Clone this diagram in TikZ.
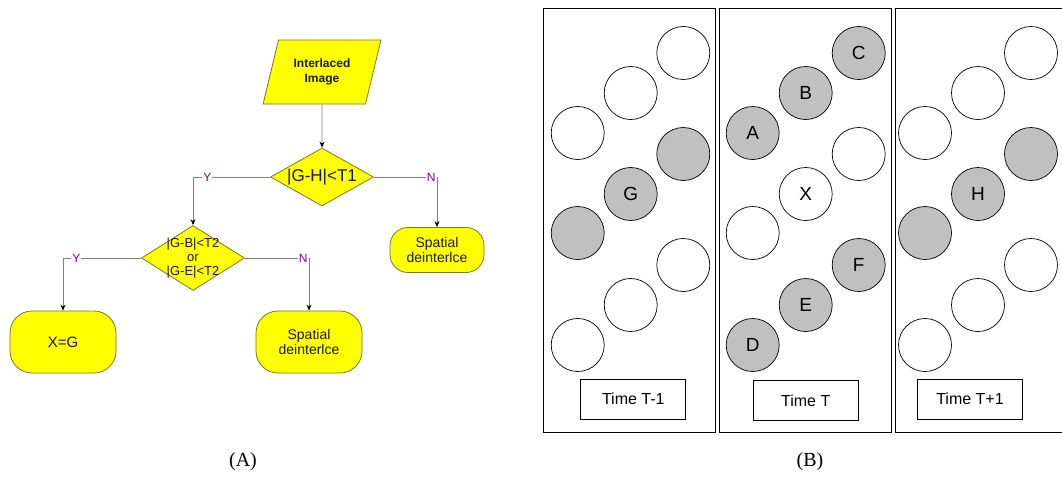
\documentclass[tikz,border=0pt]{standalone}
\usepackage{fontspec}
\setmainfont{Liberation Sans}
\newfontfamily\capfont{Liberation Serif}
\usetikzlibrary{shapes.geometric,arrows.meta}

\definecolor{flowfill}{RGB}{255,255,0}
\definecolor{flowedge}{RGB}{120,120,40}
\definecolor{wiregray}{RGB}{128,128,128}
\definecolor{ynpurple}{RGB}{128,0,128}
\definecolor{pixgray}{RGB}{192,192,192}

\tikzset{
  flow/.style={draw=flowedge, fill=flowfill, line width=0.8pt, inner sep=0pt, align=center, text=black!90},
  iobox/.style={flow, trapezium, trapezium left angle=69, trapezium right angle=111,
    trapezium stretches=true, minimum width=118pt, minimum height=64pt,
    font=\fontsize{12}{15}\selectfont\bfseries},
  decision/.style={flow, diamond, minimum width=103pt},
  dtext/.style={inner sep=0pt, align=center, text=black!90},
  terminal/.style={flow, rectangle, rounded corners=22pt, minimum width=106pt, minimum height=62pt,
    font=\fontsize{14}{15.5}\selectfont},
  wire/.style={draw=wiregray, line width=0.8pt},
  flowarrow/.style={wire, -{Stealth[length=6pt,width=5pt,black]}},
  yn/.style={text=ynpurple, fill=white, inner sep=1pt, font=\fontsize{12}{12}\selectfont},
  pix/.style={circle, draw=black, line width=0.7pt, minimum size=53pt, inner sep=0pt,
    fill=white, font=\fontsize{19}{19}\selectfont},
  shaded/.style={pix, fill=pixgray},
  timebox/.style={rectangle, draw=black, line width=0.7pt, minimum width=105pt, minimum height=40pt,
    inner sep=0pt, font=\fontsize{16}{16}\selectfont},
  panel/.style={draw=black, line width=0.8pt},
  caption/.style={font=\capfont\fontsize{20}{20}\selectfont, inner sep=0pt}
}

\begin{document}
\begin{tikzpicture}[x=1pt, y=-1pt]
\useasboundingbox (0,0) rectangle (1062,499);

% ---------- flowchart ----------
\node[iobox] (img) at (322,72) {Interlaced\\Image};
\node[decision, minimum height=58pt] (d1) at (322,177) {};
\node[dtext, font=\fontsize{17}{17}\selectfont] (d1t) at (d1) {|G-H|<T1};
\node[decision, minimum height=65pt] (d2) at (193,258) {};
\node[dtext, font=\fontsize{13}{14}\selectfont] (d2t) at (d2) {|G-B|<T2\\or\\|G-E|<T2};
\node[terminal, minimum width=94pt, minimum height=45pt, rounded corners=18pt] (sp1) at (437,250) {Spatial\\deinterlce};
\node[terminal, font=\fontsize{15}{15}\selectfont] (xg) at (63,342) {X=G};
\node[terminal] (sp2) at (309,342) {Spatial\\deinterlce};

\draw[flowarrow] (img.south) -- (d1.north);
\draw[flowarrow] (d1.west) -| node[yn, pos=0.5, anchor=west, xshift=9pt] (y1) {Y} (d2.north);
\draw[flowarrow] (d1.east) -| node[yn, pos=0.5, anchor=east] (n1) {N} (sp1.north);
\draw[flowarrow] (d2.west) -| node[yn, pos=0.5, anchor=west, xshift=8pt] (y2) {Y} (xg.north);
\draw[flowarrow] (d2.east) -| node[yn, pos=0.5, anchor=east] (n2) {N} (sp2.north);

% ---------- pixel fields ----------
\begin{scope}
\clip (0,0) rectangle (1062,499);
\draw[panel] (543,8) rectangle (715.5,432);
\draw[panel] (719.5,8) rectangle (891.5,432);
\draw[panel] (895.5,8) rectangle (1068,432);
\end{scope}

% field at time T-1
\node[pix]    (a1) at (683.3,53) {};
\node[pix]    (a2) at (630.7,93) {};
\node[pix]    (a3) at (577.7,133) {};
\node[shaded] (a4) at (683.3,154) {};
\node[shaded] (a5) at (630.7,194) {G};
\node[shaded] (a6) at (577.7,233) {};
\node[pix]    (a7) at (683.3,265) {};
\node[pix]    (a8) at (630.7,305) {};
\node[pix]    (a9) at (577.7,345) {};
\node[timebox] (ta) at (633.3,399) {Time T-1};

% field at time T
\node[shaded] (b1) at (858.7,53) {C};
\node[shaded] (b2) at (805.7,93) {B};
\node[shaded] (b3) at (752.7,133) {A};
\node[pix]    (b4) at (858.7,154) {};
\node[pix]    (b5) at (805.7,194) {X};
\node[pix]    (b6) at (752.7,233) {};
\node[shaded] (b7) at (858.7,265) {F};
\node[shaded] (b8) at (805.7,305) {E};
\node[shaded] (b9) at (752.7,345) {D};
\node[timebox] (tb) at (805.7,400.7) {Time T};

% field at time T+1
\node[pix]    (c1) at (1031,53) {};
\node[pix]    (c2) at (978,93) {};
\node[pix]    (c3) at (925,133) {};
\node[shaded] (c4) at (1031,154) {};
\node[shaded] (c5) at (978,194) {H};
\node[shaded] (c6) at (925,233) {};
\node[pix]    (c7) at (1031,265) {};
\node[pix]    (c8) at (978,305) {};
\node[pix]    (c9) at (925,345) {};
\node[timebox] (tc) at (970,399) {Time T+1};

% ---------- captions ----------
\node[caption] (capA) at (243,462) {(A)};
\node[caption] (capB) at (810,462) {(B)};
\end{tikzpicture}
\end{document}
